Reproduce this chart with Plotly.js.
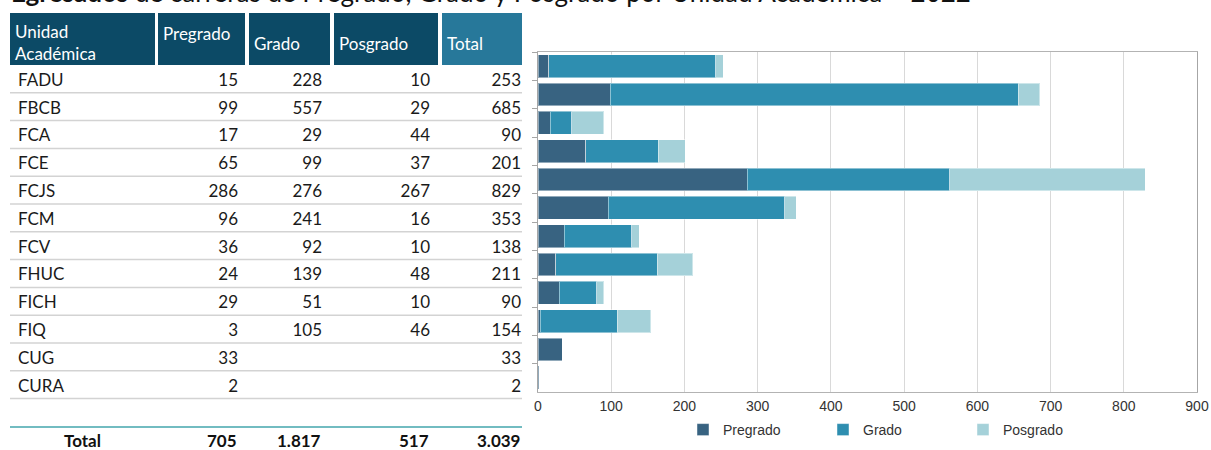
<!DOCTYPE html>
<html><head><meta charset="utf-8">
<script src="https://cdn.plot.ly/plotly-3.0.1.min.js"></script>
<style>html,body{margin:0;padding:0;background:#fff;overflow:hidden}#chart{width:1211px;height:450px}</style>
</head><body><div id="chart"></div>
<script>
// ---- data ----
const units = ['FADU','FBCB','FCA','FCE','FCJS','FCM','FCV','FHUC','FICH','FIQ','CUG','CURA'];
const pregrado = [15,99,17,65,286,96,36,24,29,3,33,2];
const grado = [228,557,29,99,276,241,92,139,51,105,null,null];
const posgrado = [10,29,44,37,267,16,10,48,10,46,null,null];
const totalCol = [253,685,90,201,829,353,138,211,90,154,33,2];
const headers = ['Unidad<br>Académica','Pregrado','Grado','Posgrado','Total'];
const totalsRow = ['Total','705','1.817','517','3.039'];
const seriesNames = ['Pregrado','Grado','Posgrado'];
const xTickVals = [0,100,200,300,400,500,600,700,800,900];
const titleBold = 'Egresados';
const titleRest = ' de carreras de Pregrado, Grado y Posgrado por Unidad Académica – 2022';

// ---- layout helpers ----
const W = 1211, H = 450;
const px = x => x / W;
const py = y => 1 - y / H;
const tableFont = 'Lato, "Open Sans", sans-serif';
const chartFont = '"Liberation Sans", Arial, sans-serif';
const colors = ['#386381', '#2e8eb0', '#a5d1d9'];

// table geometry
const tableLeft = 10, tableRight = 529;
const colWidths = [145, 91, 84, 108, 91];
const headTop = 13, headH = 52;
const rowTop = headTop + headH, rowH = 27.8;
const cellPad = 8;
const blank = v => (v === null || v === undefined) ? '' : String(v);

const traces = [];

// Table (header row invisible: header cells are drawn as shapes + annotations)
traces.push({
  type: 'table',
  domain: {x: [px(tableLeft), px(tableRight)], y: [py(rowTop + rowH * units.length + 6), py(headTop)]},
  columnwidth: colWidths,
  header: {values: headers.map(() => ''), height: headH,
    fill: {color: 'rgba(0,0,0,0)'}, line: {width: 0, color: 'rgba(0,0,0,0)'}},
  cells: {
    values: [units, pregrado.map(blank), grado.map(blank), posgrado.map(blank), totalCol.map(blank)],
    height: rowH,
    align: ['left', 'right', 'right', 'right', 'right'],
    fill: {color: 'rgba(0,0,0,0)'},
    line: {width: 0, color: 'rgba(0,0,0,0)'},
    font: {family: tableFont, size: 17, color: '#1a1a1a'}
  }
});

// Stacked bars
const seriesVals = [pregrado, grado, posgrado];
seriesVals.forEach((vals, i) => {
  traces.push({
    type: 'bar', orientation: 'h',
    name: seriesNames[i],
    x: vals, y: units,
    marker: {color: colors[i], line: {color: 'rgba(255,255,255,0.45)', width: 1}},
    xaxis: 'x', yaxis: 'y'
  });
});

// header shapes + annotations
const headerCells = [[10,155],[158,245],[249,330],[334,438],[442,522]];
const headerFills = ['#0c4a66','#0c4a66','#0c4a66','#0c4a66','#27789a'];
const headerYs = [42, 33, 43, 43, 43];
const shapes = [];
const annotations = [];
headerCells.forEach((c, i) => {
  shapes.push({type: 'rect', xref: 'paper', yref: 'paper', x0: px(c[0]), x1: px(c[1]), y0: py(rowTop), y1: py(headTop),
    fillcolor: headerFills[i], line: {width: 0}, layer: 'below'});
  annotations.push({xref: 'paper', yref: 'paper', x: px(c[0] + 3), y: py(headerYs[i]), xanchor: 'left', yanchor: 'middle',
    align: 'left', showarrow: false, text: headers[i], font: {family: tableFont, size: 17, color: '#ffffff'}});
});
// row separators
for (let k = 1; k <= units.length; k++) {
  const y = rowTop + k * rowH;
  shapes.push({type: 'line', xref: 'paper', yref: 'paper', x0: px(10), x1: px(522), y0: py(y), y1: py(y),
    line: {color: '#d3d3d3', width: 1.5}, layer: 'below'});
}
// teal line above total
shapes.push({type: 'line', xref: 'paper', yref: 'paper', x0: px(10), x1: px(522), y0: py(427), y1: py(427),
  line: {color: '#72bcc1', width: 2}, layer: 'below'});

// total row
let edge = tableLeft;
totalsRow.forEach((v, i) => {
  const left = edge, right = edge + colWidths[i];
  edge = right;
  const centered = i === 0;
  annotations.push({xref: 'paper', yref: 'paper',
    x: px(centered ? (left + 155) / 2 : right - cellPad), y: py(440),
    xanchor: centered ? 'center' : 'right', yanchor: 'middle', showarrow: false, borderpad: 0,
    text: '<b>' + v + '</b>', font: {family: tableFont, size: 17, color: '#111'}});
});

// title (cut off at top, as in the reference)
annotations.push({xref: 'paper', yref: 'paper', x: px(9), y: py(10), xanchor: 'left', yanchor: 'bottom',
  showarrow: false, text: '<b>' + titleBold + '</b>' + titleRest,
  font: {family: tableFont, size: 26, color: '#111'}});

const layout = {
  width: W, height: H,
  margin: {l: 0, r: 0, t: 0, b: 0},
  paper_bgcolor: '#ffffff', plot_bgcolor: '#ffffff',
  barmode: 'stack', bargap: 0.19,
  font: {family: chartFont, size: 14, color: '#333'},
  xaxis: {
    domain: [px(538), px(1197)], range: [0, 900], tickvals: xTickVals,
    showgrid: true, gridcolor: '#d9d9d9', gridwidth: 1,
    showline: true, linecolor: '#b3b3b3', linewidth: 1, mirror: true,
    ticks: '', zeroline: false, fixedrange: true, automargin: false, ticklabelstandoff: 1,
    tickfont: {family: chartFont, size: 14, color: '#333'}
  },
  yaxis: {
    domain: [py(392), py(52)], autorange: 'reversed', type: 'category',
    showticklabels: false, ticks: 'outside', tickson: 'boundaries', ticklen: 5, tickcolor: '#a6a6a6',
    showline: true, linecolor: '#a6a6a6', linewidth: 1, mirror: true, showgrid: false, fixedrange: true,
    automargin: false
  },
  showlegend: true,
  legend: {orientation: 'h', x: px(683), y: py(430), xanchor: 'left', yanchor: 'middle',
    entrywidth: 95, entrywidthmode: 'pixels', itemwidth: 30, traceorder: 'normal',
    font: {family: chartFont, size: 14, color: '#333'}, bgcolor: 'rgba(0,0,0,0)'},
  shapes: shapes,
  annotations: annotations
};

Plotly.newPlot('chart', traces, layout, {displayModeBar: false, staticPlot: true});
</script>
</body></html>
